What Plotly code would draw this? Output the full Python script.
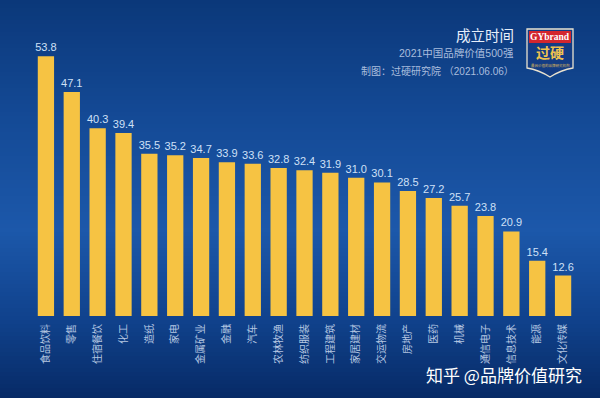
import plotly.graph_objects as go

categories = ["食品饮料", "零售", "住宿餐饮", "化工", "造纸", "家电", "金属矿业", "金融", "汽车", "农林牧渔",
              "纺织服装", "工程建筑", "家居建材", "交运物流", "房地产", "医药", "机械", "通信电子", "信息技术", "能源", "文化传媒"]
values = [53.8, 47.1, 40.3, 39.4, 35.5, 35.2, 34.7, 33.9, 33.6, 32.8,
          32.4, 31.9, 31.0, 30.1, 28.5, 27.2, 25.7, 23.8, 20.9, 15.4, 12.6]

title_text = "成立时间"
subtitle_text = "2021中国品牌价值500强"
source_text = "制图：过硬研究院 （2021.06.06）"
watermark_text = "知乎 @品牌价值研究"

W, H = 600, 398
ML, MR, MT, MB = 33, 24, 34, 82
PW, PH = W - ML - MR, H - MT - MB


def px(x):
    return (x - ML) / PW


def py(y):
    return (H - MB - y) / PH


def lerp(c1, c2, t):
    return tuple(int(round(a + (b - a) * t)) for a, b in zip(c1, c2))


stops = [(0, (11, 56, 122)), (120, (20, 74, 150)), (230, (28, 88, 170)), (320, (16, 66, 140)), (398, (7, 42, 102))]


def grad(y):
    for (y0, c0), (y1, c1) in zip(stops[:-1], stops[1:]):
        if y0 <= y <= y1:
            return lerp(c0, c1, (y - y0) / (y1 - y0))
    return stops[-1][1]


shapes = []
step = 4
for y in range(0, H, step):
    c = grad(y + step / 2)
    shapes.append(dict(type="rect", xref="paper", yref="paper", layer="below",
                       x0=px(0), x1=px(W), y0=py(y + step + 0.5), y1=py(y),
                       fillcolor="rgb(%d,%d,%d)" % c, line=dict(width=0)))


def pt(x, y):
    return "%.5f,%.5f" % (px(x), py(y))


shield = "M %s L %s L %s Q %s %s Q %s %s Z" % (pt(527, 29), pt(573, 29), pt(573, 68), pt(561, 70), pt(550, 77), pt(539, 70), pt(527, 68))
shapes.append(dict(type="path", xref="paper", yref="paper", path=shield,
                   fillcolor="#133c84", line=dict(color="#e9e2cf", width=1.3)))
shapes.append(dict(type="rect", xref="paper", yref="paper", x0=px(529), x1=px(571), y0=py(43), y1=py(31),
                   fillcolor="#d3262e", line=dict(width=0)))

fig = go.Figure(go.Bar(
    x=categories, y=values, text=[f"{v:.1f}" for v in values],
    textposition="outside", cliponaxis=False, constraintext="none",
    textfont=dict(size=11, color="#cfe0f7", family="Liberation Sans, Noto Sans CJK SC"),
    marker=dict(color="#f6c343", line=dict(width=0)),
    hoverinfo="skip",
))

annotations = [
    dict(text=title_text, x=px(516), y=py(34), xanchor="right", yanchor="middle",
         font=dict(size=14.5, color="#e6eefa", family="Noto Sans CJK SC")),
    dict(text=subtitle_text, x=px(516), y=py(53), xanchor="right", yanchor="middle",
         font=dict(size=10.5, color="#a9bddd", family="Liberation Sans, Noto Sans CJK SC")),
    dict(text=source_text, x=px(516), y=py(71), xanchor="right", yanchor="middle",
         font=dict(size=10, color="#a9bddd", family="Liberation Sans, Noto Sans CJK SC")),
    dict(text="<b>GYbrand</b>", x=px(550), y=py(37), xanchor="center", yanchor="middle",
         font=dict(size=9.5, color="#ffffff", family="Liberation Serif, DejaVu Serif")),
    dict(text="<b>过硬</b>", x=px(550), y=py(52.5), xanchor="center", yanchor="middle",
         font=dict(size=14, color="#eec24f", family="Noto Sans CJK SC")),
    dict(text="最具价值的品牌研究机构", x=px(550), y=py(65.5), xanchor="center", yanchor="middle",
         font=dict(size=3.5, color="#d9b55a", family="Noto Sans CJK SC")),
    dict(text=watermark_text, x=px(584), y=py(374), xanchor="right", yanchor="middle",
         font=dict(size=17, color="#ffffff", family="Noto Sans CJK SC")),
]
for a in annotations:
    a.update(xref="paper", yref="paper", showarrow=False)

fig.update_layout(
    width=W, height=H,
    margin=dict(l=ML, r=MR, t=MT, b=MB, pad=0, autoexpand=False),
    paper_bgcolor="#0b3a7e", plot_bgcolor="rgba(0,0,0,0)",
    bargap=0.37, showlegend=False,
    shapes=shapes, annotations=annotations,
    xaxis=dict(tickangle=-90, tickfont=dict(size=10, color="#b6c7e2", family="Noto Sans CJK SC"),
               showgrid=False, zeroline=False, showline=False, ticks="outside", ticklen=3,
               tickcolor="rgba(0,0,0,0)", fixedrange=True, automargin=False),
    yaxis=dict(range=[5, 58], visible=False, showgrid=False, fixedrange=True),
)

fig.write_html("out.html", config={"displayModeBar": False},
               post_script="document.body.style.margin='0';document.body.style.padding='0';")
